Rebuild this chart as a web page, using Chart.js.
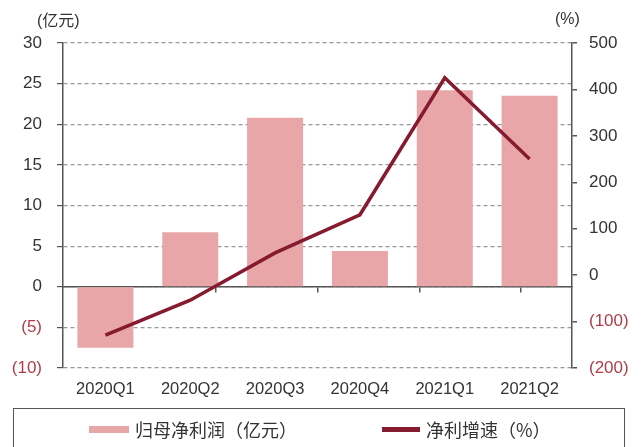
<!DOCTYPE html>
<html>
<head>
<meta charset="utf-8">
<script src="https://cdn.jsdelivr.net/npm/chart.js@4"></script>
<style>
  body { margin: 0; background: #fff; }
  #wrap { position: relative; width: 641px; height: 447px; overflow: hidden; }
  #legend {
    position: absolute; left: 13px; top: 408px; width: 612px; height: 60px;
    border: 1.5px solid #555; box-sizing: border-box;
    font-family: "Noto Sans CJK SC", sans-serif; font-size: 18px; color: #333;
  }
  .item { position: absolute; top: 8px; line-height: 24px; white-space: nowrap; }
  .swatch { position: absolute; }
</style>
</head>
<body>
<div id="wrap">
  <canvas id="chart" width="641" height="447"></canvas>
  <div id="legend">
    <span class="swatch" style="left:75px;top:17px;width:40px;height:7px;background:#e8a6a8"></span>
    <span class="item" style="left:121px">归母净利润（亿元）</span>
    <span class="swatch" style="left:368px;top:18px;width:38px;height:5px;background:#861a2e"></span>
    <span class="item" style="left:412px">净利增速（%）</span>
  </div>
</div>
<script>
const quarters = ['2020Q1', '2020Q2', '2020Q3', '2020Q4', '2021Q1', '2021Q2'];
const netProfit = [-7.5, 6.7, 20.8, 4.4, 24.2, 23.5];      // 亿元
const profitGrowth = [-129, -54, 48, 130, 425, 250];       // %

const textColor = '#333';
const negColor = '#b03c48';
const axisColor = '#555';
const numFont = { family: 'Liberation Sans, Arial, sans-serif', size: 17 };

const fmt = v => v < 0 ? '(' + (-v) + ')' : String(v);

// unit captions above both value axes
const unitLabels = {
  id: 'unitLabels',
  afterDraw(chart) {
    const c = chart.ctx;
    c.save();
    c.fillStyle = textColor;
    c.font = '16px "Liberation Sans", "Noto Sans CJK SC", sans-serif';
    c.textBaseline = 'middle';
    c.textAlign = 'left';
    c.fillText('(亿元)', 37, 22);
    c.fillText('(%)', 555, 20);
    c.restore();
  }
};

new Chart(document.getElementById('chart'), {
  data: {
    labels: quarters,
    datasets: [
      {
        type: 'line',
        label: '净利增速（%）',
        data: profitGrowth,
        yAxisID: 'y2',
        xAxisID: 'x',
        borderColor: '#861a2e',
        borderWidth: 3.5,
        pointRadius: 0,
        tension: 0,
        order: 0
      },
      {
        type: 'bar',
        label: '归母净利润（亿元）',
        data: netProfit,
        yAxisID: 'y',
        xAxisID: 'x',
        backgroundColor: '#e8a6a8',
        categoryPercentage: 1,
        barPercentage: 0.66,
        order: 1
      }
    ]
  },
  options: {
    responsive: false,
    animation: false,
    layout: { padding: { left: 0, right: 0, top: 43, bottom: 43 } },
    plugins: { legend: { display: false }, tooltip: { enabled: false } },
    scales: {
      x: {
        position: 'bottom',
        grid: { display: false, drawTicks: false },
        border: { display: false },
        ticks: { color: textColor, font: { family: numFont.family, size: 16.5 }, padding: 12, maxRotation: 0 },
        afterFit: s => { s.height = 36; }
      },
      xz: {
        type: 'category',
        position: { y: 0 },
        grid: { offset: true, drawOnChartArea: false, tickLength: 5, color: axisColor, lineWidth: 1.5 },
        border: { color: axisColor, width: 1.5 },
        ticks: { display: false },
        afterFit: s => { s.height = 0; }
      },
      y: {
        position: 'left',
        min: -10, max: 30,
        ticks: {
          stepSize: 5, padding: 15, font: numFont,
          color: c => c.tick.value < 0 ? negColor : textColor,
          callback: fmt
        },
        grid: { color: '#999', lineWidth: 1.2, tickLength: 6, tickColor: axisColor, tickBorderDash: [] },
        border: { color: axisColor, width: 1.5, dash: [4, 3] },
        afterFit: s => { s.width = 63; }
      },
      y2: {
        position: 'right',
        min: -200, max: 500,
        ticks: {
          stepSize: 100, padding: 12, font: numFont,
          color: c => c.tick.value < 0 ? negColor : textColor,
          callback: fmt
        },
        grid: { drawOnChartArea: false, tickLength: 5, color: axisColor, lineWidth: 1.5 },
        border: { color: axisColor, width: 1.5 },
        afterFit: s => { s.width = 69; }
      }
    }
  },
  plugins: [unitLabels]
});
</script>
</body>
</html>
